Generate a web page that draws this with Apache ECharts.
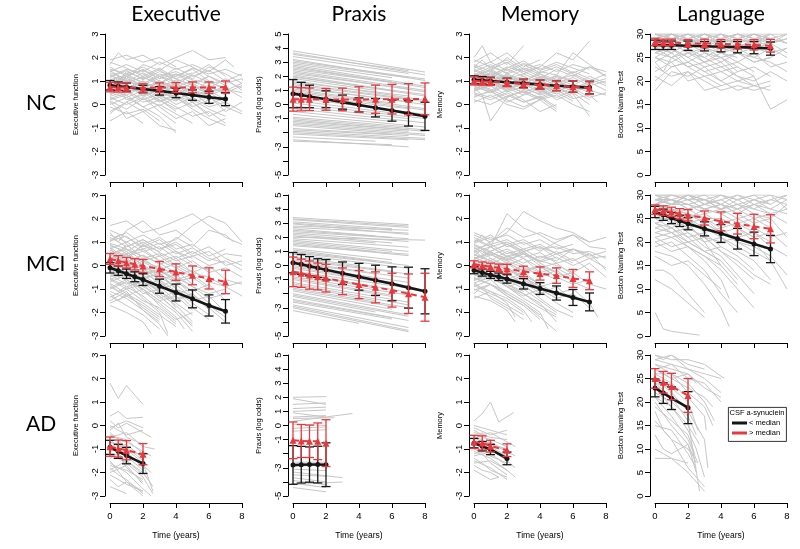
<!DOCTYPE html>
<html><head><meta charset="utf-8">
<script src="https://cdn.jsdelivr.net/npm/echarts@6/dist/echarts.min.js"></script>
<style>html,body{margin:0;padding:0;background:#fff}#c{width:800px;height:549px}</style>
</head><body><div id="c"></div><script>
// ---------- labels ----------
const rowNames = ['NC', 'MCI', 'AD'];
const colTitles = ['Executive', 'Praxis', 'Memory', 'Language'];
const yTitles = ['Executive function', 'Praxis (log odds)', 'Memory', 'Boston Naming Test'];
const xTitle = 'Time (years)';
const xTicks = [0, 2, 4, 6, 8];
const yTicksExec = [-3, -2, -1, 0, 1, 2, 3];
const yTicksPraxis = [-5, -4, -3, -2, -1, 0, 1, 2, 3, 4, 5];
const yTicksPraxisHidden = [-4, -2];
const yTicksMemory = [-3, -2, -1, 0, 1, 2, 3];
const yTicksLanguage = [0, 5, 10, 15, 20, 25, 30];
const legendTitle = 'CSF a-synuclein';
const legendNames = ['< median', '> median'];

// ---------- visit times ----------
const timesNC = [0, 0.5, 1, 2, 3, 4, 5, 6, 7];
const timesNCPraxis = [0, 0.5, 1, 2, 3, 4, 5, 6, 7, 8];
const timesMCI = [0, 0.5, 1, 1.5, 2, 3, 4, 5, 6, 7];
const timesMCIPraxis = [0, 0.5, 1, 1.5, 2, 3, 4, 5, 6, 7, 8];
const timesAD = [0, 0.5, 1, 2];
const timesADPraxis = [0, 0.5, 1, 1.5, 2];

// ---------- group means and error half-widths ----------
const ncExecLow = [0.82, 0.78, 0.74, 0.66, 0.58, 0.49, 0.40, 0.31, 0.23];
const ncExecLowErr = [0.2, 0.18, 0.17, 0.16, 0.18, 0.2, 0.22, 0.26, 0.28];
const ncExecHigh = [0.74, 0.72, 0.72, 0.70, 0.72, 0.72, 0.73, 0.72, 0.74];
const ncExecHighErr = [0.2, 0.19, 0.19, 0.18, 0.2, 0.21, 0.23, 0.24, 0.26];

const ncPraxisLow = [0.77, 0.67, 0.57, 0.37, 0.17, -0.03, -0.23, -0.43, -0.63, -0.84];
const ncPraxisLowErr = [1.0, 0.9, 0.8, 0.6, 0.5, 0.5, 0.65, 0.75, 0.9, 1.0];
const ncPraxisHigh = [0.38, 0.37, 0.37, 0.36, 0.36, 0.36, 0.37, 0.38, 0.38, 0.4];
const ncPraxisHighErr = [0.85, 0.82, 0.8, 0.77, 0.8, 0.9, 1.0, 1.05, 1.1, 1.13];

const ncMemLow = [1.05, 1.03, 1.0, 0.95, 0.9, 0.85, 0.8, 0.76, 0.72];
const ncMemLowErr = [0.17, 0.16, 0.16, 0.17, 0.18, 0.19, 0.21, 0.24, 0.27];
const ncMemHigh = [1.0, 0.98, 0.97, 0.93, 0.88, 0.84, 0.8, 0.76, 0.7];
const ncMemHighErr = [0.17, 0.16, 0.16, 0.17, 0.18, 0.19, 0.21, 0.24, 0.27];

const ncLangLow = [27.7, 27.6, 27.6, 27.5, 27.4, 27.3, 27.2, 27.1, 26.9];
const ncLangLowErr = [1.0, 0.9, 0.9, 1.0, 1.0, 1.1, 1.2, 1.3, 1.4];
const ncLangHigh = [28.3, 28.2, 28.2, 28.0, 28.0, 27.9, 27.8, 27.7, 27.5];
const ncLangHighErr = [0.8, 0.7, 0.7, 0.8, 0.9, 0.9, 1.0, 1.1, 1.35];

const mciExecLow = [-0.1, -0.22, -0.35, -0.48, -0.6, -0.88, -1.15, -1.42, -1.7, -1.95];
const mciExecLowErr = [0.22, 0.2, 0.2, 0.21, 0.25, 0.3, 0.36, 0.38, 0.45, 0.5];
const mciExecHigh = [0.28, 0.2, 0.12, 0.05, -0.02, -0.15, -0.28, -0.42, -0.55, -0.7];
const mciExecHighErr = [0.23, 0.22, 0.22, 0.24, 0.28, 0.32, 0.35, 0.4, 0.45, 0.5];

const mciPraxisLow = [0.2, 0.08, -0.05, -0.18, -0.3, -0.55, -0.8, -1.05, -1.3, -1.57, -1.83];
const mciPraxisLowErr = [0.72, 0.7, 0.68, 0.66, 0.72, 0.8, 0.95, 1.07, 1.2, 1.45, 1.6];
const mciPraxisHigh = [-0.45, -0.55, -0.68, -0.78, -0.9, -1.12, -1.35, -1.55, -1.75, -2.0, -2.25];
const mciPraxisHighErr = [1.05, 1.0, 1.0, 0.95, 0.98, 0.95, 1.0, 1.1, 1.2, 1.4, 1.7];

const mciMemLow = [-0.2, -0.3, -0.4, -0.48, -0.57, -0.78, -0.98, -1.17, -1.36, -1.55];
const mciMemLowErr = [0.15, 0.15, 0.15, 0.16, 0.18, 0.22, 0.25, 0.3, 0.34, 0.38];
const mciMemHigh = [0.05, 0.0, -0.05, -0.1, -0.15, -0.25, -0.34, -0.43, -0.55, -0.65];
const mciMemHighErr = [0.15, 0.15, 0.15, 0.16, 0.2, 0.22, 0.28, 0.33, 0.38, 0.38];

const mciLangLow = [26.4, 25.8, 25.1, 24.5, 23.9, 22.8, 21.8, 20.7, 19.6, 18.5];
const mciLangLowErr = [1.2, 1.2, 1.2, 1.2, 1.3, 1.5, 1.9, 2.2, 2.5, 2.9];
const mciLangHigh = [26.9, 26.7, 26.4, 26.0, 25.7, 25.1, 24.4, 23.9, 23.3, 22.8];
const mciLangHighErr = [1.0, 1.0, 1.0, 1.1, 1.2, 1.5, 2.0, 2.2, 2.6, 3.0];

const adExecLow = [-0.93, -1.1, -1.28, -1.62];
const adExecLowErr = [0.3, 0.3, 0.35, 0.42];
const adExecHigh = [-0.9, -0.98, -1.05, -1.22];
const adExecHighErr = [0.41, 0.36, 0.41, 0.45];

const adPraxisLow = [-2.8, -2.78, -2.77, -2.77, -2.78];
const adPraxisLowErr = [1.37, 1.3, 1.25, 1.3, 1.55];
const adPraxisHigh = [-1.05, -1.1, -1.12, -1.12, -1.25];
const adPraxisHighErr = [1.3, 1.17, 1.15, 1.3, 1.66];

const adMemLow = [-0.75, -0.88, -1.02, -1.4];
const adMemLowErr = [0.2, 0.2, 0.22, 0.27];
const adMemHigh = [-0.7, -0.74, -0.88, -1.05];
const adMemHighErr = [0.28, 0.3, 0.25, 0.27];

const adLangLow = [23.0, 21.9, 20.8, 18.8];
const adLangLowErr = [1.9, 2.2, 2.4, 3.4];
const adLangHigh = [25.0, 24.2, 23.3, 21.4];
const adLangHighErr = [2.1, 2.3, 2.8, 3.6];

// ---------- individual trajectories (flat t,y pairs) ----------
const ncExecGray = [
 [0,1.9, 1,2.1, 2,1.8, 3,2.0, 4,1.6],
 [0,1.7, 0.5,2.2, 1,1.9, 2,2.1, 3,1.7, 5,2.3, 6,1.9, 7,2.0],
 [0,1.5, 1,1.3, 2,1.6, 3,1.2, 4,1.4, 5,1.1, 6,1.6, 7,1.3, 8,0.9],
 [0,1.3, 0.5,1.0, 1,1.4, 2,1.1, 3,1.5, 4,0.9],
 [0,1.2, 1,1.5, 2,1.3, 3,0.9, 4,1.2, 5,1.5, 6,1.0],
 [0,1.1, 0.5,0.8, 1,1.2, 2,0.7, 3,1.0, 4,0.6, 5,0.9, 6,0.5, 7,0.7, 8,0.3],
 [0,1.0, 1,0.9, 2,1.2, 3,0.8, 4,1.0, 5,0.7],
 [0,0.9, 0.5,1.2, 1,0.7, 2,1.0, 3,0.5, 4,0.8, 5,0.4, 6,0.6, 7,0.2],
 [0,0.8, 1,0.6, 2,0.9, 3,0.4, 4,0.6, 5,0.1, 6,0.3, 7,-0.1, 8,-0.4],
 [0,0.7, 0.5,0.5, 1,0.8, 2,0.5, 3,0.7, 4,0.3],
 [0,0.6, 1,0.8, 2,0.4, 3,0.6, 4,0.2, 5,0.5, 6,0.0, 7,0.3],
 [0,0.5, 1,0.3, 2,0.6, 3,0.2, 4,-0.2, 5,0.1, 6,-0.4],
 [0,0.4, 0.5,0.6, 1,0.2, 2,0.4, 3,-0.1, 4,-0.6, 5,-0.3, 6,-0.9, 7,-0.6],
 [0,0.3, 1,0.0, 2,0.3, 3,-0.3, 4,-0.8],
 [0,0.2, 1,0.4, 2,-0.1, 3,-0.5, 4,-1.2],
 [0,0.1, 0.5,-0.2, 1,0.1, 2,-0.3, 3,0.0, 4,-0.4, 5,-0.8],
 [0,-0.1, 1,-0.4, 2,-0.2, 3,-0.7],
 [0,-0.4, 0.5,-0.1, 1,-0.6, 2,-0.3, 3,-0.9, 4,-1.1],
 [0,-0.7, 1,-0.3, 2,-0.8],
 [0,1.4, 1,1.7, 2,1.4, 3,1.8, 4,1.5, 5,1.7, 6,1.4, 7,1.9, 7.5,1.6],
 [0,0.95, 1,1.1, 2,0.85, 3,1.3, 4,1.1, 5,0.8, 6,1.2, 7,0.9, 8,1.1, 8.3,0.7],
 [0,0.65, 1,1.0, 2,0.75, 3,0.9, 4,0.45, 5,0.7, 6,0.8, 7,0.4],
 [0,0.85, 1,0.55, 2,0.65, 3,0.3, 4,0.55, 5,0.2, 6,-0.2, 7,-0.5],
 [0,1.6, 1,1.2, 2,1.5, 3,1.1, 4,1.3, 5,0.9, 6,1.2],
 [0,0.55, 0.5,0.9, 1,0.6, 2,0.2, 3,0.45, 4,0.0, 5,0.3, 6,-0.1, 7,0.1, 8,-0.3],
 [0,1.05, 1,0.7, 2,1.0, 3,0.6, 4,0.85, 5,0.45, 6,0.75, 7,0.5, 8,0.8],
 [0,0.35, 1,0.55, 2,0.1, 3,0.3, 4,-0.1, 5,-0.5, 6,-0.3, 7,-0.8],
 [0,1.25, 1,0.95, 2,1.35, 3,1.0, 4,0.75, 5,1.0, 6,0.7, 7,1.1, 8,0.6],
 [0,0.75, 1,1.3, 2,0.9, 3,1.2, 4,0.8, 5,1.3, 6,1.7, 7,1.2],
 [0,0.0, 1,0.3, 2,-0.1, 3,0.2, 4,-0.3],
 [0,1.15, 1,1.45, 2,1.05, 3,1.4, 4,1.2, 5,1.55, 6,1.3, 7,1.5, 8,1.2],
 [0,0.45, 1,0.75, 2,0.55, 3,0.95, 4,0.7, 5,0.35, 6,0.55, 7,0.0],
 [0,0.9, 1,1.2, 2,0.95, 3,0.7, 4,1.05, 5,0.85, 6,0.4, 7,0.65, 8,0.5],
 [0,1.35, 1,1.1, 2,1.7, 3,1.45, 4,1.9, 5,1.6, 6,1.2, 7,0.8],
 [0,0.6, 1,0.4, 2,0.75, 3,0.35, 4,0.15, 5,0.6, 6,0.35, 7,-0.3, 8,0.1],
 [0,0.25, 1,0.5, 2,0.8, 3,0.5, 4,0.3, 5,-0.1, 6,0.2],
 [0,1.0, 1,0.8, 2,0.5, 3,0.85, 4,0.4, 5,0.1, 6,-0.5, 7,-0.2],
 [0,0.7, 1,0.95, 2,1.15, 3,0.9, 4,1.3, 5,1.05, 6,0.9, 7,1.0, 8,0.7],
 [0,1.8, 1,1.55, 2,1.2, 3,1.55, 4,1.1, 5,1.35],
 [0,0.15, 1,-0.2, 2,0.25, 3,-0.05, 4,0.3, 5,-0.2, 6,-0.6, 7,-0.9],
 [0,0.8, 1,1.05, 2,0.6, 3,0.15, 4,0.45, 5,0.75, 6,0.5, 7,0.8],
 [0,0.5, 1,0.85, 2,0.35, 3,0.65, 4,0.9, 5,0.55, 6,1.0, 7,0.6, 8,0.9],
 [0,-0.3, 1,0.1, 2,0.5, 3,0.1, 4,0.4, 5,-0.05],
 [0,1.45, 1,1.0, 2,0.8, 3,1.2, 4,0.95, 5,1.25, 6,0.95, 7,0.7],
 [0,1.05, 1,1.25, 2,1.45, 3,1.1, 4,1.55, 5,1.2, 6,1.45, 7,1.0, 8,1.3]
];
const ncPraxisGray = [
 [0,3.8,8,2.3],[0,3.65,8,2.1],[0,3.4,7,2.2],[0,3.2,8,1.7],[0,3.0,7,1.9],[0,2.8,8,1.3],
 [0,2.6,6,1.6],[0,2.4,8,1.0],[0,2.2,7,1.1],[0,2.0,8,0.6],[0,1.85,5,1.0],[0,1.7,8,0.3],
 [0,1.5,7,0.4],[0,1.3,8,0.0],[0,1.1,6,0.1],[0,0.9,8,-0.4],[0,0.7,7,-0.3],[0,0.5,8,-0.7],
 [0,0.3,6,-0.6],[0,0.1,8,-1.0],[0,-0.1,7,-1.0],[0,-0.3,8,-1.3],[0,-0.5,6,-1.2],[0,-0.7,8,-1.6],
 [0,-0.9,7,-1.6],[0,-1.1,8,-1.9],[0,-1.3,7,-1.9],[0,-1.5,8,-2.2],[0,-1.7,6,-2.1],[0,-1.9,8,-2.4],
 [0,-2.1,7,-2.5],[0,-2.3,5,-2.6],[0,-2.5,7,-3.0],[0,-2.6,6,-2.85],
 [0,3.55,7,2.4],[0,3.1,8,1.8],[0,2.9,6,1.9],[0,2.7,8,1.2],[0,2.5,7,1.4],[0,2.3,8,0.9],
 [0,2.1,6,1.0],[0,1.95,8,0.7],[0,1.6,7,0.6],[0,1.4,8,0.2],[0,1.2,7,0.2],[0,1.0,8,-0.3],
 [0,-1.0,8,-1.8],[0,-1.2,7,-1.8],[0,-1.4,8,-2.1],[0,-1.8,7,-2.2],[0,-2.0,8,-2.5]
];
const ncMemGray = [
 [0,2.0, 0.5,2.5, 1,1.8, 2,2.2, 3,1.6, 4,1.9],
 [0,1.8, 1,2.2, 2,1.7, 3,2.5],
 [0,1.6, 0.5,1.9, 1,1.5, 2,1.8, 3,1.3, 4,1.6, 5,2.2, 6,1.9, 7,2.7],
 [0,1.5, 1,1.2, 2,1.6, 3,1.4, 4,1.1, 5,1.5, 6,1.2, 7,1.6, 8,1.4],
 [0,1.4, 1,1.7, 2,1.3, 3,1.0, 4,1.3, 5,0.9],
 [0,1.3, 0.5,1.0, 1,1.4, 2,1.1, 3,1.5, 4,1.2, 5,1.0, 6,1.4, 7,1.1, 8,0.8],
 [0,1.2, 1,0.9, 2,1.2, 3,0.8, 4,1.0, 5,0.6],
 [0,1.1, 1,1.3, 2,0.9, 3,1.1, 4,0.7, 5,1.0, 6,0.6, 7,0.9],
 [0,1.0, 0.5,0.7, 1,1.0, 2,0.6, 3,0.9, 4,0.5, 5,0.8, 6,0.3],
 [0,0.9, 1,1.1, 2,0.7, 3,0.4, 4,0.7, 5,0.2, 6,0.5, 7,0.0],
 [0,0.8, 1,0.5, 2,0.8, 3,0.5, 4,0.2, 5,0.4, 6,0.0, 7,-0.3],
 [0,0.7, 0.5,0.4, 1,-0.7, 2,0.3, 3,0.6],
 [0,0.6, 1,0.8, 2,0.4, 3,0.1, 4,0.3, 5,-0.2],
 [0,0.5, 1,0.3, 2,0.6, 3,0.2, 4,-0.3, 5,0.0],
 [0,0.3, 1,0.6, 2,0.1, 3,0.4],
 [0,0.1, 1,0.4, 2,0.0, 3,-0.2, 4,0.2],
 [0,1.7, 1,1.4, 2,2.0, 3,1.5, 4,1.7, 5,1.4, 6,1.7, 7,1.5],
 [0,1.25, 1,1.6, 2,1.35, 3,1.7, 4,1.35, 5,1.6, 6,1.3, 7,1.0, 8,1.3],
 [0,0.95, 1,0.75, 2,1.05, 3,0.7, 4,0.95, 5,0.55, 6,0.85, 7,0.6, 8,0.4],
 [0,0.65, 1,0.95, 2,0.55, 3,0.75, 4,0.4, 5,0.6, 6,0.25, 7,0.4, 7.5,0.1],
 [0,1.15, 1,1.45, 2,1.1, 3,1.3, 4,1.0, 5,1.2, 6,0.95],
 [0,0.45, 1,0.2, 2,0.5, 3,0.1, 4,0.35, 5,-0.1],
 [0,1.35, 1,1.05, 2,1.25, 3,0.95, 4,1.4, 5,1.25, 6,2.2, 7,1.7, 8,1.2],
 [0,0.85, 1,0.6, 2,0.95, 3,0.65, 4,0.45, 5,0.7, 6,0.45, 7,-0.5],
 [0,1.9, 1,1.6, 2,1.9, 3,1.4, 4,1.6],
 [0,1.55, 1,1.8, 2,1.45, 3,1.75, 4,1.5, 5,1.8, 6,1.55, 7,1.3],
 [0,1.05, 1,1.35, 2,1.0, 3,1.2, 4,0.85, 5,1.15, 6,0.8, 7,1.2, 8,0.9],
 [0,0.75, 1,0.55, 2,0.85, 3,0.5, 4,0.8, 5,0.45, 6,0.7, 7,0.3, 8,0.5],
 [0,1.45, 1,1.15, 2,1.5, 3,1.2, 4,0.9, 5,1.25, 6,1.0],
 [0,0.55, 1,0.85, 2,0.65, 3,0.95, 4,0.6, 5,0.3, 6,0.6, 7,0.2],
 [0,1.2, 1,1.5, 2,1.15, 3,0.9, 4,1.2, 5,0.9, 6,1.15, 7,0.8, 8,1.0],
 [0,0.9, 1,0.65, 2,0.3, 3,0.6, 4,0.25, 5,0.5, 6,0.15],
 [0,1.65, 1,1.25, 2,1.55, 3,1.85, 4,1.45, 5,1.7, 6,1.35, 7,1.6, 8,1.2],
 [0,0.35, 1,0.55, 2,0.2, 3,-0.1, 4,0.2, 5,-0.3],
 [0,1.0, 1,0.85, 2,1.15, 3,1.0, 4,0.75, 5,1.05, 6,0.7, 7,0.95, 8,0.6],
 [0,0.6, 1,1.0, 2,1.2, 3,0.9, 4,1.15, 5,0.8, 6,1.05],
 [0,1.3, 1,0.95, 2,0.75, 3,1.05, 4,0.8, 5,0.55, 6,0.8, 7,0.5],
 [0,0.2, 1,0.0, 2,0.35, 3,0.55, 4,0.3, 5,0.6],
 [0,1.1, 1,0.95, 2,1.3, 3,1.55, 4,1.3, 5,1.05, 6,1.25, 7,0.9, 8,1.1],
 [0,0.8, 1,1.0, 2,0.7, 3,0.85, 4,0.55, 5,0.9, 6,0.55, 7,0.75]
];
const ncLangGray = [
 [0,30, 1,30, 2,29, 3,30, 4,30, 5,29, 6,30, 7,30, 8,30],
 [0,29, 1,30, 2,30, 3,28, 4,29, 5,30, 6,29, 7,28, 8,29],
 [0,28, 1,29, 2,27, 3,29, 4,28, 5,27, 6,28, 7,29],
 [0,27, 1,28, 2,29, 3,27, 4,26, 5,28, 6,27, 7,26, 8,27],
 [0,26, 1,27, 2,25, 3,27, 4,26, 5,25],
 [0,25, 1,24, 2,26, 3,25, 4,23, 5,24, 6,22],
 [0,24, 0.5,22, 1,25, 2,23, 3,21, 4,22, 5,20, 6,21],
 [0,23, 1,21, 2,22, 3,20, 4,18, 5,19, 6,18, 7,19],
 [0,22, 1,24, 2,20, 3,21, 4,19],
 [0,18, 0.5,20, 1,22, 2,21, 3,23, 4,20, 5,22],
 [0,21, 1,19, 2,22, 3,18, 4,19, 5,20, 6,19, 7,18],
 [0,27, 1,25, 2,26, 3,24, 4,25, 5,23, 6,21, 7,14, 8,16],
 [0,29, 1,28, 2,29, 3,30, 4,28, 5,29, 6,28, 7,30],
 [0,30, 1,29, 2,30, 3,29, 4,30, 5,28, 6,30, 7,29, 8,30],
 [0,26, 1,28, 2,27, 3,25, 4,27, 5,26, 6,24, 7,25, 8,27],
 [0,28, 1,26, 2,28, 3,26, 4,24, 5,26, 6,25, 7,27],
 [0,25, 1,27, 2,24, 3,26, 4,25, 5,22, 6,23, 7,21],
 [0,30, 1,28, 2,30, 3,30, 4,29, 5,30, 6,30, 7,28, 8,29],
 [0,27, 1,30, 2,28, 3,28, 4,30, 5,27, 6,29, 7,27, 8,25],
 [0,29, 1,27, 2,25, 3,23, 4,24, 5,21, 6,19, 7,20],
 [0,30, 1,29, 2,30, 3,28, 4,30, 5,29, 6,28, 7,30, 8,28],
 [0,29, 1,30, 2,28, 3,30, 4,29, 5,28, 6,29, 7,30],
 [0,28, 1,30, 2,29, 3,27, 4,29, 5,30, 6,28, 7,28, 8,30],
 [0,30, 1,30, 2,28, 3,29, 4,27, 5,29, 6,30, 7,29],
 [0,27, 1,26, 2,28, 3,29, 4,28, 5,26, 6,27, 7,28, 8,26],
 [0,29, 1,28, 2,26, 3,27, 4,25, 5,26, 6,24, 7,25],
 [0,26, 1,25, 2,27, 3,24, 4,26, 5,24, 6,26, 7,23, 8,24],
 [0,28, 1,27, 2,29, 3,28, 4,26, 5,27, 6,25, 7,24, 8,22],
 [0,24, 1,26, 2,23, 3,24, 4,22, 5,23],
 [0,20, 1,23, 2,24, 3,22, 4,20, 5,18, 6,19],
 [0,30, 1,29, 2,29, 3,30, 4,28, 5,30, 6,29, 7,29, 8,28],
 [0,25, 1,23, 2,24, 3,22, 4,23, 5,21, 6,20, 7,22, 8,20]
];
const mciExecGray = [
 [0,1.7, 1,1.9, 2,1.4, 3,1.6, 4,1.9, 5,2.2, 6,1.7, 7,1.2, 8,0.9],
 [0,1.4, 0.5,1.0, 1,1.5, 2,1.9, 3,1.3, 4,1.5, 5,1.0],
 [0,1.2, 1,0.8, 2,1.1, 3,0.7, 4,1.0, 5,0.5, 6,0.8, 7,0.3, 8,0.0],
 [0,1.0, 0.5,1.3, 1,0.9, 1.5,0.6, 2,0.9, 3,0.4, 4,0.6, 5,0.1],
 [0,0.9, 1,0.5, 2,0.7, 3,0.2, 4,-0.1, 5,0.2, 6,-0.3, 7,-0.1, 8,-0.5],
 [0,0.8, 0.5,0.5, 1,0.9, 2,0.3, 3,0.5, 4,0.0, 5,-0.4],
 [0,0.7, 1,1.0, 2,0.6, 3,0.8, 4,0.3, 5,0.6, 6,0.2, 7,0.5, 8,0.4],
 [0,0.6, 0.5,0.2, 1,0.5, 1.5,0.1, 2,0.3, 3,-0.2, 4,-0.6, 5,-0.4, 6,-0.9],
 [0,0.5, 1,0.7, 2,0.2, 3,0.4, 4,-0.1, 5,-0.5, 6,-1.0],
 [0,0.4, 0.5,0.0, 1,0.3, 2,-0.2, 3,0.0, 4,-0.5, 5,-0.9, 6,-1.4, 7,-1.2],
 [0,0.3, 1,0.5, 2,0.0, 3,-0.4, 4,-0.2, 5,-0.8],
 [0,0.2, 0.5,-0.1, 1,0.1, 2,-0.3, 3,-0.7, 4,-1.2, 5,-1.0, 6,-1.6],
 [0,0.1, 1,-0.3, 2,0.0, 3,-0.5, 4,-0.9],
 [0,0.0, 0.5,0.3, 1,-0.1, 2,-0.6, 3,-0.3, 4,-1.0, 5,-1.5, 6,-1.3, 7,-2.0],
 [0,-0.1, 1,-0.5, 2,-0.2, 3,-0.8, 4,-1.3],
 [0,-0.2, 0.5,-0.5, 1,-0.3, 1.5,-0.8, 2,-0.6, 3,-1.1, 4,-1.6, 5,-2.1],
 [0,-0.3, 1,-0.1, 2,-0.7, 3,-1.0, 4,-0.8, 5,-1.4],
 [0,-0.4, 1,-0.8, 2,-0.5, 3,-1.2, 4,-1.7, 5,-2.4],
 [0,-0.5, 0.5,-0.2, 1,-0.7, 2,-1.0, 3,-1.5, 4,-2.0, 5,-2.8],
 [0,-0.6, 1,-1.0, 2,-0.8, 3,-1.4, 4,-1.1, 5,-1.8, 6,-2.3],
 [0,-0.7, 1,-0.4, 2,-1.1, 3,-1.6, 4,-2.2, 4.5,-2.7],
 [0,-0.8, 0.5,-1.1, 1,-0.9, 2,-1.3, 3,-1.9, 4,-2.5],
 [0,-0.9, 1,-1.3, 2,-1.0, 3,-1.7, 4,-2.3, 5,-2.0],
 [0,-1.0, 1,-0.7, 2,-1.4, 3,-2.0, 3.5,-2.9],
 [0,-1.2, 0.5,-1.5, 1,-1.2, 2,-1.8, 3,-2.3],
 [0,-1.3, 1,-1.7, 2,-2.1, 3,-2.7],
 [0,-1.5, 1,-1.1, 2,-1.9, 3,-2.5, 3.5,-3.0],
 [0,-1.7, 1,-2.0, 2,-2.4, 2.5,-2.9],
 [0,1.1, 1,1.4, 2,0.9, 3,1.2, 4,0.7, 5,0.9, 6,0.4, 7,0.7],
 [0,0.45, 1,0.15, 2,0.45, 3,0.05, 4,0.3, 5,-0.3, 6,0.0, 7,-0.6, 8,-0.8],
 [0,-0.05, 1,0.25, 2,-0.35, 3,-0.15, 4,-0.6, 5,-1.1, 6,-0.8, 7,-1.5],
 [0,0.65, 1,0.35, 2,0.85, 3,0.6, 4,1.2, 5,0.8, 6,1.5, 7,1.3, 7.5,1.0],
 [0,-0.45, 1,-0.15, 2,-0.55, 3,-0.9, 4,-0.6, 5,-1.3, 6,-1.7, 7,-2.2],
 [0,0.15, 1,-0.2, 2,0.2, 3,-0.1, 4,-0.4, 5,-0.2, 6,-0.7, 7,-0.9, 8,-1.3],
 [0,-0.25, 1,0.05, 2,-0.4, 3,-0.2, 4,-0.7, 5,-0.5],
 [0,0.85, 1,0.6, 2,1.0, 3,0.55, 4,0.2, 5,0.4, 6,0.0, 7,0.2, 8,-0.2],
 [0,-0.6, 1,-0.3, 2,-0.9, 3,-0.6, 4,-1.4, 5,-1.2, 6,-1.9],
 [0,1.3, 1,1.0, 2,1.3, 3,0.9, 4,1.1, 5,1.7, 6,2.1, 7,1.8, 8,1.0],
 [0,1.5, 1,1.2, 2,0.8, 3,1.1, 4,0.6, 5,0.3],
 [0,0.95, 1,0.7, 2,0.4, 3,0.1, 4,-0.3],
 [0,0.75, 0.5,0.4, 1,0.6, 2,0.0, 3,-0.4, 4,-0.7, 5,-1.1],
 [0,0.55, 1,0.2, 2,-0.1, 3,-0.6, 4,-1.1, 5,-1.6, 6,-2.1],
 [0,0.35, 1,0.0, 2,-0.4, 3,-0.9, 4,-1.5],
 [0,0.25, 0.5,0.55, 1,0.4, 2,0.6, 3,0.2, 4,0.4, 5,0.0, 6,-0.2],
 [0,0.05, 1,-0.4, 2,-0.9, 3,-1.3, 4,-1.9, 5,-2.5],
 [0,-0.15, 1,0.1, 2,-0.5, 3,-0.4, 4,-1.0, 5,-1.3],
 [0,-0.35, 1,-0.6, 2,-1.2, 3,-1.0, 4,-1.8],
 [0,-0.55, 1,-0.9, 2,-0.7, 3,-1.3, 4,-1.9, 5,-2.6],
 [0,-0.75, 1,-1.2, 2,-1.6, 3,-2.1, 4,-2.6],
 [0,-0.95, 1,-0.6, 2,-1.0, 3,-1.5, 4,-1.3, 5,-1.9],
 [0,-1.1, 1,-1.4, 2,-1.9, 3,-2.4],
 [0,-1.35, 1,-1.0, 2,-1.5, 3,-1.8, 4,-2.4],
 [0,-1.6, 1,-1.3, 2,-1.7, 3,-2.2],
 [0,1.05, 1,1.25, 2,0.7, 3,0.95, 4,0.5, 5,0.75, 6,0.3, 7,0.1],
 [0,0.45, 1,0.8, 2,1.1, 3,0.7, 4,0.9, 5,0.4, 6,0.6, 7,0.0, 8,0.2],
 [0,-0.05, 1,-0.35, 2,-0.15, 3,-0.6, 4,-0.4, 5,-0.9, 6,-1.2, 7,-1.0],
 [0,0.2, 1,0.45, 2,0.15, 3,-0.2, 4,0.1, 5,-0.3, 6,-0.5, 7,-0.9, 8,-0.7],
 [0,-0.5, 1,-0.25, 2,-0.7, 3,-1.1, 4,-1.5, 5,-1.2, 6,-1.8, 7,-2.4]
];
const mciPraxisGray = [
 [0,3.4,7,2.9],[0,3.25,7,2.7],[0,3.1,6,2.6],[0,2.95,7,2.2],[0,2.8,7,2.5],[0,2.6,5,2.1],
 [0,2.4,7,1.9],[0,2.2,6,1.6],[0,2.0,8,1.8],[0,1.8,7,1.0],[0,1.6,5,1.0],[0,1.4,7,0.8],
 [0,1.2,6,0.4],[0,1.0,5,0.3],[0,0.8,7,-0.2],[0,0.6,4,0.0],[0,0.4,7,-0.6],[0,0.2,5,-0.6],
 [0,0.0,7,-1.2],[0,-0.2,6,-1.3],[0,-0.4,7,-1.6],[0,-0.6,5,-1.6],[0,-0.8,7,-2.1],[0,-1.0,6,-2.2],
 [0,-1.2,7,-2.6],[0,-1.4,5,-2.5],[0,-1.6,7,-3.0],[0,-1.8,6,-3.1],[0,-2.0,7,-3.5],[0,-2.2,5,-3.3],
 [0,-2.4,7,-3.9],[0,-2.6,6,-3.8],[0,-2.8,7,-4.4],[0,-3.0,7,-4.7],[0,-3.2,4,-4.1],
 [0,3.3,7,2.8],[0,3.0,6,2.5],[0,2.7,7,2.3],[0,2.5,6,2.0],[0,2.3,7,1.7],[0,2.1,5,1.6],
 [0,1.9,7,1.3],[0,1.7,6,1.0],[0,1.5,7,0.7],[0,1.1,6,0.2],[0,0.9,7,0.0],[0,0.5,6,-0.4],
 [0,0.3,7,-0.9],[0,-0.1,6,-1.2],[0,-0.5,7,-1.9],[0,-0.9,6,-2.1],[0,-1.3,7,-2.8],[0,-1.7,6,-2.9],
 [0,-2.1,7,-3.6],[0,-2.5,6,-3.7],[0,-2.9,7,-4.6]
];
const mciMemGray = [
 [0,1.2, 1,0.8, 2,2.2, 3,1.6, 4,1.3, 5,0.9, 6,0.6],
 [0,0.6, 1,1.0, 2,1.4, 3,2.3, 4,1.9, 5,1.6, 6,1.4, 7,1.0, 8,1.2],
 [0,1.0, 0.5,1.3, 1,0.9, 2,1.1, 3,0.7, 4,0.9, 5,0.5, 6,0.7, 7,0.3, 8,0.4],
 [0,0.9, 1,0.6, 2,0.9, 3,0.5, 4,0.2, 5,0.5, 6,0.1],
 [0,0.8, 0.5,0.5, 1,0.8, 2,0.4, 3,0.6, 4,0.1, 5,-0.3],
 [0,0.7, 1,0.9, 2,0.5, 3,0.7, 4,0.3, 5,0.6, 6,0.2, 7,0.5, 8,-0.2],
 [0,0.5, 1,0.2, 2,0.6, 3,0.3, 4,-0.1, 5,0.1, 6,-0.4],
 [0,0.4, 0.5,0.7, 1,0.3, 2,0.0, 3,0.3, 4,-0.3, 5,-0.6],
 [0,0.3, 1,0.5, 2,0.1, 3,-0.2, 4,0.0, 5,-0.5, 6,-0.8, 7,-0.6],
 [0,0.2, 0.5,-0.1, 1,0.2, 2,-0.2, 3,-0.5, 4,-0.9, 5,-0.7],
 [0,0.1, 1,-0.2, 2,0.1, 3,-0.4, 4,-0.8],
 [0,0.0, 1,0.3, 2,-0.1, 3,-0.6, 4,-1.0, 5,-1.4],
 [0,-0.1, 0.5,-0.4, 1,-0.2, 2,-0.7, 3,-0.4, 4,-1.1, 5,-1.6, 6,-2.0],
 [0,-0.2, 1,0.0, 2,-0.5, 3,-0.9, 4,-1.3],
 [0,-0.3, 1,-0.6, 2,-0.3, 3,-0.8, 4,-1.4, 5,-1.9, 6,-2.2],
 [0,-0.4, 0.5,-0.1, 1,-0.5, 2,-0.9, 3,-1.3, 4,-1.0],
 [0,-0.5, 1,-0.8, 2,-1.1, 3,-1.5, 4,-2.0, 4.5,-2.7],
 [0,-0.6, 1,-0.3, 2,-0.8, 3,-1.2, 4,-1.6, 5,-2.4],
 [0,-0.7, 0.5,-1.0, 1,-0.8, 2,-1.3, 3,-1.7],
 [0,-0.8, 1,-1.1, 2,-1.4, 3,-1.9, 3.5,-2.4],
 [0,-0.9, 1,-0.6, 2,-1.2, 3,-1.6, 4,-2.2, 5,-2.8],
 [0,-1.0, 1,-1.3, 2,-1.7, 3,-2.1],
 [0,-1.2, 0.5,-0.9, 1,-1.4, 2,-1.8, 3,-2.3],
 [0,-1.4, 1,-1.1, 2,-1.6, 2.5,-2.2],
 [0,1.4, 1,1.1, 2,1.3, 3,0.9, 4,1.1, 5,0.7, 6,0.9],
 [0,0.15, 1,0.45, 2,0.2, 3,0.5, 4,0.15, 5,0.35, 6,0.0, 7,0.3, 8,-0.1],
 [0,-0.15, 1,0.1, 2,-0.3, 3,0.0, 4,-0.5, 5,-0.2, 6,-0.7, 7,-1.0],
 [0,0.35, 1,0.05, 2,0.4, 3,0.1, 4,0.4, 5,0.2, 6,0.7, 7,0.5, 7.5,0.3],
 [0,-0.45, 1,-0.2, 2,-0.6, 3,-0.3, 4,-0.8, 5,-1.2, 6,-1.0, 7,-1.6, 7.5,-2.2],
 [0,0.55, 1,0.8, 2,0.35, 3,0.55, 4,0.2, 5,0.0, 6,-0.3, 7,0.1, 8,-0.5],
 [0,-0.65, 1,-0.35, 2,-0.9, 3,-0.7, 4,-1.2, 5,-0.9, 6,-1.5],
 [0,1.0, 1,1.3, 2,0.8, 3,1.0, 4,0.6, 5,1.0, 6,1.3, 7,0.8, 8,0.7],
 [0,1.1, 1,0.8, 2,1.0, 3,0.6, 4,0.8, 5,0.3],
 [0,0.85, 1,0.55, 2,0.25, 3,0.5, 4,0.0, 5,-0.3, 6,-0.6],
 [0,0.65, 0.5,0.35, 1,0.6, 2,0.2, 3,-0.1, 4,-0.4],
 [0,0.45, 1,0.2, 2,-0.1, 3,-0.5, 4,-0.9, 5,-1.3],
 [0,0.25, 1,0.55, 2,0.3, 3,0.0, 4,-0.3, 5,-0.1, 6,-0.5],
 [0,0.05, 1,-0.3, 2,-0.6, 3,-1.0, 4,-1.5, 5,-2.0],
 [0,-0.05, 1,0.2, 2,-0.2, 3,-0.4, 4,-0.8],
 [0,-0.25, 1,-0.5, 2,-0.9, 3,-1.2, 4,-1.7, 5,-2.1],
 [0,-0.35, 0.5,-0.6, 1,-0.4, 2,-0.8, 3,-1.1],
 [0,-0.55, 1,-0.8, 2,-1.2, 3,-1.6, 4,-2.1],
 [0,-0.75, 1,-0.5, 2,-0.9, 3,-1.4, 4,-1.8, 5,-2.2],
 [0,-0.85, 1,-1.2, 2,-1.5, 3,-2.0],
 [0,-1.05, 1,-0.8, 2,-1.3, 3,-1.7, 4,-2.3],
 [0,-1.3, 1,-1.5, 2,-1.9, 2.5,-2.4],
 [0,0.95, 1,1.2, 2,0.9, 3,1.1, 4,0.7, 5,0.8, 6,0.5, 7,0.6, 8,0.3],
 [0,0.75, 1,0.45, 2,0.7, 3,0.35, 4,0.55, 5,0.1, 6,0.3, 7,-0.2],
 [0,0.1, 1,-0.15, 2,0.15, 3,-0.25, 4,-0.05, 5,-0.5, 6,-0.3, 7,-0.8, 8,-1.0],
 [0,-0.6, 1,-0.35, 2,-0.7, 3,-0.5, 4,-1.0, 5,-1.4, 6,-1.2, 7,-1.8],
 [0,1.3, 1,1.0, 2,1.6, 3,1.2, 4,1.4, 5,1.1, 6,1.3, 7,1.0],
 [0,0.3, 1,0.6, 2,0.9, 3,0.6, 4,0.8, 5,0.5, 6,0.7, 7,0.4, 8,0.6]
];
const mciLangGray = [
 [0,30, 1,30, 2,29, 3,30, 4,30, 5,29, 6,30, 7,30, 8,29],
 [0,29, 1,30, 2,30, 3,28, 4,29, 5,30, 6,28, 7,29, 8,30],
 [0,28, 1,29, 2,27, 3,28, 4,30, 5,29, 6,30, 7,28],
 [0,27, 1,28, 2,29, 3,27, 4,28, 5,26, 6,28, 7,27, 8,26],
 [0,30, 1,28, 2,30, 3,29, 4,27, 5,28, 6,26, 7,24],
 [0,26, 1,27, 2,25, 3,27, 4,26, 5,24, 6,25, 7,23],
 [0,25, 1,26, 2,24, 3,25, 4,22, 5,23, 6,21, 7,22, 8,19],
 [0,24, 1,23, 2,25, 3,22, 4,23, 5,20, 6,18, 7,16],
 [0,23, 1,24, 2,21, 3,22, 4,19, 5,17, 6,14],
 [0,22, 1,21, 2,22, 3,19, 4,17, 5,13, 6,9],
 [0,21, 1,22, 2,19, 3,17, 4,14, 5,10, 6,6],
 [0,20, 1,18, 2,19, 3,16, 4,12, 4.5,8],
 [0,19, 1,20, 2,17, 3,14, 4,9, 5,5],
 [0,18, 1,17, 2,15, 3,11, 4,6, 4.5,2],
 [0,17, 1,15, 2,16, 3,13, 4,10],
 [0,14, 0.5,14, 1,13, 2,9, 3,5],
 [0,5, 0.5,1.5, 1,1, 2,0.5, 2.7,0.2],
 [0,12, 1,10, 2,7, 3,4],
 [0,28, 1,27, 2,26, 3,24, 4,25, 5,23, 6,20, 7,16, 8,10],
 [0,29, 1,28, 2,28, 3,26, 4,27, 5,25, 6,26, 7,25, 8,28],
 [0,27, 1,25, 2,26, 3,24, 4,22, 5,20, 6,19, 7,17, 8,13],
 [0,26, 1,25, 2,23, 3,21, 4,18, 5,15, 6,12],
 [0,28, 1,26, 2,24, 3,20, 4,15],
 [0,24, 1,25, 2,22, 3,20, 4,21, 5,18, 6,16, 7,12],
 [0,25, 1,23, 2,21, 3,18, 4,16, 5,12],
 [0,29, 1,29, 2,28, 3,29, 4,28, 5,27, 6,29, 7,30, 8,27],
 [0,21, 1,19, 2,20, 3,18, 4,19],
 [0,27, 1,28, 2,30, 3,29, 4,27, 5,29, 6,27, 7,26, 8,24],
 [0,30, 1,29, 2,30, 3,30, 4,28, 5,30, 6,29, 7,28, 8,30],
 [0,29, 1,29, 2,27, 3,28, 4,29, 5,27, 6,28, 7,26],
 [0,28, 1,30, 2,29, 3,27, 4,26, 5,27, 6,25, 7,26, 8,27],
 [0,27, 1,27, 2,25, 3,26, 4,24, 5,25, 6,23, 7,21, 8,22],
 [0,26, 1,24, 2,25, 3,23, 4,21, 5,19, 6,17],
 [0,25, 1,25, 2,23, 3,24, 4,22, 5,21, 6,22, 7,20],
 [0,24, 1,22, 2,20, 3,21, 4,18, 5,16, 6,13, 7,11],
 [0,23, 1,22, 2,23, 3,21, 4,20, 5,21],
 [0,22, 1,23, 2,20, 3,18, 4,16],
 [0,28, 1,29, 2,28, 3,27, 4,28, 5,26, 6,24, 7,25, 8,21],
 [0,30, 1,30, 2,29, 3,29, 4,30, 5,28, 6,27, 7,29, 8,28],
 [0,26, 1,27, 2,26, 3,25, 4,23, 5,24, 6,22, 7,19, 8,17],
 [0,27, 1,26, 2,27, 3,25, 4,25, 5,23, 6,21],
 [0,20, 1,21, 2,19, 3,17, 4,15, 5,11],
 [0,29, 1,28, 2,30, 3,28, 4,27, 5,28, 6,29, 7,27, 8,29]
];
const adExecGray = [
 [0,1.8, 0.5,1.15, 1,1.7, 2,0.9],
 [0,0.4, 0.5,0.6, 1,0.3, 2,0.35],
 [0,0.2, 0.5,-0.1, 1,0.1, 2,-0.3, 2.5,-0.5],
 [0,0.0, 1,-0.4, 2,-0.2],
 [0,-0.2, 0.5,0.1, 1,-0.5, 2,-0.8],
 [0,-0.4, 1,-0.7, 2,-1.1, 2.5,-1.3],
 [0,-0.6, 0.5,-0.9, 1,-0.8, 2,-1.4],
 [0,-0.8, 1,-1.2, 2,-1.7, 2.5,-2.0],
 [0,-1.0, 0.5,-0.7, 1,-1.3, 2,-1.9],
 [0,-1.2, 1,-1.6, 2,-2.2, 2.6,-2.9],
 [0,-1.4, 0.5,-1.2, 1,-1.8, 2,-2.4],
 [0,-1.6, 1,-2.0, 2,-2.7, 2.5,-3.0],
 [0,-1.8, 0.5,-2.1, 1,-2.3, 2,-2.9],
 [0,-2.0, 1,-1.7, 2,-2.5],
 [0,-2.3, 0.5,-2.6, 1,-2.4, 2,-3.0],
 [0,-2.6, 1,-2.9],
 [0,-0.1, 1,0.2, 2,-0.1],
 [0,-0.5, 1,-0.3, 2,-0.9, 2.7,-1.0],
 [0,-1.1, 1,-0.9, 2,-1.5],
 [0,-1.9, 1,-1.5, 2,-2.0, 2.6,-2.6],
 [0,-0.3, 0.5,-0.6, 1,-1.0, 2,-1.6, 2.6,-2.8],
 [0,-1.5, 1,-2.4, 2,-2.8],
 [0,-0.7, 1,-1.0, 2,-1.3],
 [0,-1.3, 1,-1.1, 2,-1.8],
 [0,-0.9, 0.5,-1.2, 1,-1.5, 2,-2.1],
 [0,-2.1, 1,-2.5, 2,-2.8],
 [0,-0.45, 1,-0.6, 2,-1.2],
 [0,-1.7, 1,-1.9, 2,-2.3]
];
const adPraxisGray = [
 [0,2.0,2,2.05],[0,1.9,2,1.5],[0,1.5,2,1.6],[0,1.2,2,1.3],[0,1.0,2,1.1],[0,0.9,2,0.6],
 [0,0.6,2,0.7],[0,0.3,3.6,0.85],[0,0.5,2.5,0.55],[0,0.1,2,0.0],[0,-0.2,2,-0.1],[0,-0.4,2,-0.3],
 [0,-2.6,2,-2.6],[0,-2.9,2,-2.8],[0,-3.1,2,-3.2],[0,-3.3,3,-3.7],[0,-3.5,2,-3.6],[0,-3.7,2,-4.0],
 [0,-3.9,2,-4.2],[0,-4.1,2,-4.4],[0,-4.4,2,-4.7],[0,-4.2,3,-4.0]
];
const adMemGray = [
 [0,0.2, 0.5,0.5, 1,1.0, 1.5,0.15, 2.4,0.55],
 [0,0.0, 1,-0.2, 2,-0.4],
 [0,-0.2, 0.5,-0.4, 1,-0.3, 2,-0.7, 2.5,-0.9],
 [0,-0.4, 1,-0.6, 2,-0.9],
 [0,-0.5, 0.5,-0.7, 1,-0.9, 2,-1.3],
 [0,-0.7, 1,-1.0, 2,-1.5, 2.5,-1.8],
 [0,-0.9, 0.5,-1.1, 1,-1.2, 2,-1.7],
 [0,-1.1, 1,-1.4, 2,-1.9, 2.5,-2.2],
 [0,-1.3, 0.5,-1.2, 1,-1.6, 2,-2.1],
 [0,-1.5, 1,-1.8, 2,-2.3],
 [0,-1.7, 0.5,-1.9, 1,-2.0, 1.5,-2.2],
 [0,-0.3, 1,-0.5, 2,-0.6],
 [0,-0.8, 1,-0.7, 2,-1.1, 2.5,-1.3],
 [0,-1.2, 1,-1.0, 2,-1.5],
 [0,-0.6, 0.5,-0.3, 1,-0.8, 2,-1.0],
 [0,-1.9, 1,-2.3, 1.5,-2.2],
 [0,-0.45, 1,-0.8, 2,-1.1],
 [0,-1.0, 1,-1.3, 2,-1.6],
 [0,-1.4, 0.5,-1.6, 1,-1.9, 2,-2.2],
 [0,-0.1, 1,-0.4, 2,-0.2],
 [0,-0.65, 1,-1.1, 2,-1.3],
 [0,-1.6, 1,-1.5, 2,-1.9]
];
const adLangGray = [
 [0,30, 1,29, 2,29, 3,28, 4.2,25],
 [0,29, 1,30, 2,28, 3,27],
 [0,28, 1,27, 2,26, 2.5,24],
 [0,27, 1,25, 2,23, 3,21, 3.5,19],
 [0,26, 1,24, 2,21, 3,17, 3.1,14],
 [0,25, 1,22, 2,18, 3,12, 3.2,6],
 [0,24, 1,21, 2,16, 2.7,1],
 [0,23, 1,19, 2,14, 2.5,10, 3,4],
 [0,22, 1,20, 2,17, 2.5,13],
 [0,21, 1,17, 2,12, 2.6,7],
 [0,20, 1,15, 2,11, 2.5,5],
 [0,18, 0.5,14, 1,12, 2,10, 2.4,8],
 [0,16, 1,12, 2,6, 3,2],
 [0,13, 0.5,10, 1,9, 2,11, 2.5,7],
 [0,10, 1,8, 2,5, 3,1],
 [0,28, 1,26, 2,24, 3,20, 3.6,16],
 [0,27, 1,28, 2,25, 3,24, 4,20],
 [0,19, 1,16, 2,13, 2.4,9],
 [0,30, 0.5,29, 1,30, 2,27, 3,26, 4,25],
 [0,8, 1,8, 2,7],
 [0,29, 1,28, 2,27, 3,25, 4,22],
 [0,26, 1,26, 2,22, 3,19, 3.5,15],
 [0,24, 1,23, 2,20, 2.6,14],
 [0,21, 1,19, 2,15, 2.7,11],
 [0,15, 1,14, 2,9, 2.5,6],
 [0,27, 1,25, 2,26, 3,23, 4,21]
];

// ---------- panel assembly ----------
const panels = [
 {r:0,c:0,t:timesNC,lo:ncExecLow,loE:ncExecLowErr,hi:ncExecHigh,hiE:ncExecHighErr,g:ncExecGray},
 {r:0,c:1,t:timesNCPraxis,lo:ncPraxisLow,loE:ncPraxisLowErr,hi:ncPraxisHigh,hiE:ncPraxisHighErr,g:ncPraxisGray},
 {r:0,c:2,t:timesNC,lo:ncMemLow,loE:ncMemLowErr,hi:ncMemHigh,hiE:ncMemHighErr,g:ncMemGray},
 {r:0,c:3,t:timesNC,lo:ncLangLow,loE:ncLangLowErr,hi:ncLangHigh,hiE:ncLangHighErr,g:ncLangGray},
 {r:1,c:0,t:timesMCI,lo:mciExecLow,loE:mciExecLowErr,hi:mciExecHigh,hiE:mciExecHighErr,g:mciExecGray},
 {r:1,c:1,t:timesMCIPraxis,lo:mciPraxisLow,loE:mciPraxisLowErr,hi:mciPraxisHigh,hiE:mciPraxisHighErr,g:mciPraxisGray},
 {r:1,c:2,t:timesMCI,lo:mciMemLow,loE:mciMemLowErr,hi:mciMemHigh,hiE:mciMemHighErr,g:mciMemGray},
 {r:1,c:3,t:timesMCI,lo:mciLangLow,loE:mciLangLowErr,hi:mciLangHigh,hiE:mciLangHighErr,g:mciLangGray},
 {r:2,c:0,t:timesAD,lo:adExecLow,loE:adExecLowErr,hi:adExecHigh,hiE:adExecHighErr,g:adExecGray},
 {r:2,c:1,t:timesADPraxis,lo:adPraxisLow,loE:adPraxisLowErr,hi:adPraxisHigh,hiE:adPraxisHighErr,g:adPraxisGray},
 {r:2,c:2,t:timesAD,lo:adMemLow,loE:adMemLowErr,hi:adMemHigh,hiE:adMemHighErr,g:adMemGray},
 {r:2,c:3,t:timesAD,lo:adLangLow,loE:adLangLowErr,hi:adLangHigh,hiE:adLangHighErr,g:adLangGray}
];
const colTicks = [yTicksExec, yTicksPraxis, yTicksMemory, yTicksLanguage];

// layout (pixels)
const colLeft = [110, 293, 474, 655];
const plotW = 132;
const rowTop = [34, 195, 355];
const plotH = 141;

const BLACK = '#151515', RED = '#e8383d', GRAY = '#c6c6c6';
const AXFONT = 'Liberation Sans, Arial, sans-serif';
const TITLEFONT = 'Lato, "Open Sans", sans-serif';

function pairs(flat) { const out = []; for (let k = 0; k < flat.length; k += 2) out.push([flat[k], flat[k+1]]); return out; }

function errSeries(name, color, i, t, m, e) {
  return {
    type: 'custom', name: name, xAxisIndex: i, yAxisIndex: i, z: 4, silent: true,
    data: t.map((x, k) => [x, m[k] - e[k], m[k] + e[k]]),
    encode: { x: 0, y: [1, 2] },
    renderItem: function (params, api) {
      const x = api.value(0);
      const a = api.coord([x, api.value(1)]);
      const b = api.coord([x, api.value(2)]);
      const w = 4.5;
      const st = { stroke: color, lineWidth: 1.3 };
      return { type: 'group', children: [
        { type: 'line', shape: { x1: a[0], y1: a[1], x2: b[0], y2: b[1] }, style: st },
        { type: 'line', shape: { x1: a[0] - w, y1: a[1], x2: a[0] + w, y2: a[1] }, style: st },
        { type: 'line', shape: { x1: b[0] - w, y1: b[1], x2: b[0] + w, y2: b[1] }, style: st }
      ]};
    }
  };
}

const grid = [], xAxis = [], yAxis = [], series = [];
panels.forEach((p, i) => {
  const ticks = colTicks[p.c];
  const tmin = Math.min(...ticks), tmax = Math.max(...ticks);
  const step = ticks[1] - ticks[0];
  grid.push({ left: colLeft[p.c], top: rowTop[p.r], width: plotW, height: plotH });
  xAxis.push({
    type: 'value', gridIndex: i, min: xTicks[0], max: xTicks[xTicks.length - 1], interval: xTicks[1] - xTicks[0],
    offset: 7,
    axisLine: { show: true, onZero: false, lineStyle: { color: '#000', width: 1 } },
    axisTick: { show: true, length: 5, lineStyle: { color: '#000', width: 1 } },
    axisLabel: { show: p.r === 2, fontSize: 9.5, color: '#000', margin: 8, fontFamily: AXFONT },
    splitLine: { show: false },
    name: p.r === 2 ? xTitle : '', nameLocation: 'middle', nameGap: 28,
    nameTextStyle: { fontSize: 8.5, color: '#000', fontFamily: AXFONT }
  });
  yAxis.push({
    type: 'value', gridIndex: i, min: tmin, max: tmax, interval: step,
    offset: 5,
    axisLine: { show: true, onZero: false, lineStyle: { color: '#000', width: 1 } },
    axisTick: { show: true, length: 5, lineStyle: { color: '#000', width: 1 } },
    axisLabel: {
      rotate: 90, fontSize: 9.5, color: '#000', margin: 5, fontFamily: AXFONT,
      formatter: v => (p.c === 1 && yTicksPraxisHidden.includes(v)) ? '' : String(v)
    },
    splitLine: { show: false },
    name: yTitles[p.c], nameLocation: 'middle', nameGap: 25,
    nameTextStyle: { fontSize: 7.5, color: '#000', fontFamily: AXFONT }
  });
  series.push({
    type: 'lines', coordinateSystem: 'cartesian2d', xAxisIndex: i, yAxisIndex: i,
    polyline: true, silent: true, z: 1,
    lineStyle: { color: GRAY, width: 1, opacity: 1 },
    data: p.g.map(f => ({ coords: pairs(f) }))
  });
  series.push({
    type: 'line', name: legendNames[0], xAxisIndex: i, yAxisIndex: i, z: 5, silent: true,
    data: p.t.map((x, k) => [x, p.lo[k]]),
    symbol: 'circle', symbolSize: 5, showSymbol: true,
    lineStyle: { color: BLACK, width: 2.6 }, itemStyle: { color: BLACK }
  });
  series.push(errSeries(legendNames[0], BLACK, i, p.t, p.lo, p.loE));
  series.push({
    type: 'line', name: legendNames[1], xAxisIndex: i, yAxisIndex: i, z: 6, silent: true,
    data: p.t.map((x, k) => [x, p.hi[k]]),
    symbol: 'triangle', symbolSize: 7, showSymbol: true,
    lineStyle: { color: RED, width: 2, type: [6, 4] }, itemStyle: { color: RED }
  });
  series.push(Object.assign(errSeries(legendNames[1], RED, i, p.t, p.hi, p.hiE), { z: 6 }));
});

const graphic = [];
colTitles.forEach((s, c) => graphic.push({
  type: 'text', x: colLeft[c] + plotW / 2, y: 14,
  style: { text: s, font: '21px ' + TITLEFONT, fill: '#000', align: 'center', verticalAlign: 'middle', textAlign: 'center', textVerticalAlign: 'middle' }
}));
rowNames.forEach((s, r) => graphic.push({
  type: 'text', left: 26, top: rowTop[r] + plotH / 2 - 12,
  style: { text: s, font: '21px ' + TITLEFONT, fill: '#000' }
}));
graphic.push({ type: 'rect', left: 728, top: 407, shape: { width: 58, height: 34 },
  style: { fill: '#fff', stroke: '#000', lineWidth: 0.8 }, z: 50 });
graphic.push({ type: 'text', x: 757, y: 413, z: 51,
  style: { text: legendTitle, font: '7.5px ' + AXFONT, fill: '#000', align: 'center', verticalAlign: 'middle', textAlign: 'center', textVerticalAlign: 'middle' } });

const chart = echarts.init(document.getElementById('c'), null, { renderer: 'canvas' });
chart.setOption({
  animation: false,
  backgroundColor: '#fff',
  grid, xAxis, yAxis, series, graphic,
  legend: {
    data: [{ name: legendNames[0], icon: 'rect' }, { name: legendNames[1], icon: 'rect' }],
    orient: 'vertical', left: 732, top: 419, itemGap: 2, itemWidth: 15, itemHeight: 3,
    textStyle: { fontSize: 7.5, color: '#000', fontFamily: AXFONT, padding: [0, 0, 0, -3] },
    selectedMode: false, z: 52, padding: 0
  }
});
</script></body></html>
